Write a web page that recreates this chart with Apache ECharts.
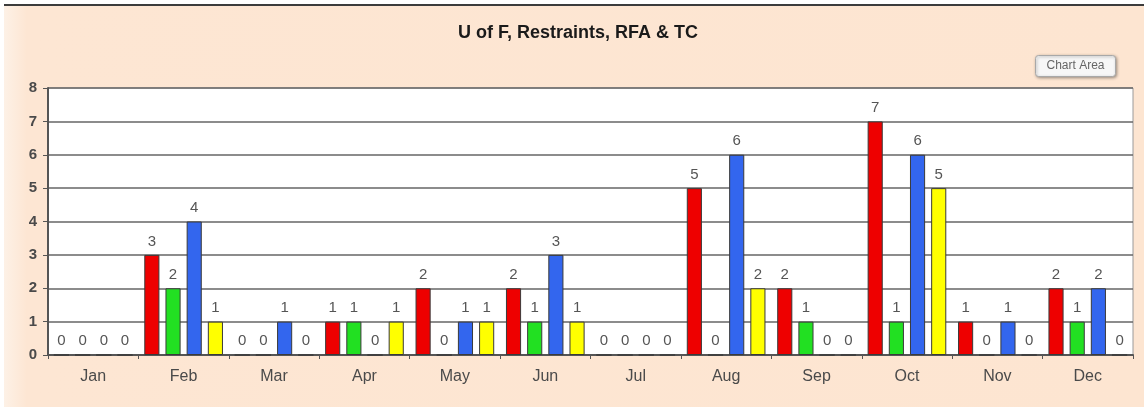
<!DOCTYPE html>
<html>
<head>
<meta charset="utf-8">
<script src="https://cdn.jsdelivr.net/npm/echarts@6/dist/echarts.min.js"></script>
<style>
  html, body { margin: 0; padding: 0; background: #fff; }
  #chart { width: 1144px; height: 407px; }
</style>
</head>
<body>
<div id="chart"></div>
<script>
// months on the x axis
var months = ["Jan", "Feb", "Mar", "Apr", "May", "Jun", "Jul", "Aug", "Sep", "Oct", "Nov", "Dec"];
// four series (red, green, blue, yellow)
var uof        = [0, 3, 0, 1, 2, 2, 0, 5, 2, 7, 1, 2];
var restraints = [0, 2, 0, 1, 0, 1, 0, 0, 1, 1, 0, 1];
var rfa        = [0, 4, 1, 0, 1, 3, 0, 6, 0, 6, 1, 2];
var tc         = [0, 1, 0, 1, 1, 1, 0, 2, 0, 5, 0, 0];
var yTicks = [0, 1, 2, 3, 4, 5, 6, 7, 8];

var font = "Arial, 'Liberation Sans', sans-serif";

function barSeries(name, values, color) {
  return {
    name: name,
    type: "bar",
    data: values,
    barGap: "40%",
    barCategoryGap: "13%",
    itemStyle: { color: color, borderColor: "#3a3a3a", borderWidth: 1 },
    label: {
      show: true,
      position: "top",
      distance: 6,
      color: "#555",
      fontSize: 15,
      fontFamily: font
    }
  };
}

var myChart = echarts.init(document.getElementById("chart"));
myChart.setOption({
  animation: false,
  backgroundColor: "#fff",
  title: {
    text: "U of F, Restraints, RFA & TC",
    left: 453,
    top: 19,
    textStyle: { fontSize: 18, fontWeight: "bold", color: "#1a1a1a", fontFamily: font }
  },
  graphic: [
    {
      type: "rect",
      z: -10,
      silent: true,
      shape: { x: 4, y: 6, width: 1140, height: 401 },
      style: {
        fill: new echarts.graphic.LinearGradient(0, 0, 1, 0, [
          { offset: 0, color: "#fdf1e6" },
          { offset: 0.02, color: "#fde6d3" },
          { offset: 1, color: "#fde5d1" }
        ])
      }
    },
    {
      type: "line",
      silent: true,
      shape: { x1: 4, y1: 5, x2: 1144, y2: 5 },
      style: { stroke: "#3c3c3c", lineWidth: 2 }
    },
    {
      type: "group",
      left: 1035,
      top: 55,
      children: [
        {
          type: "rect",
          shape: { x: 0, y: 0, width: 80, height: 21, r: 3 },
          style: {
            fill: "#f7f7f7",
            stroke: "#a8a8a8",
            lineWidth: 1,
            shadowBlur: 3,
            shadowOffsetX: 1,
            shadowOffsetY: 1,
            shadowColor: "rgba(0,0,0,0.35)"
          }
        },
        {
          type: "text",
          x: 40,
          y: 10.5,
          style: {
            text: "Chart Area",
            fontSize: 12,
            fontFamily: font,
            fill: "#666",
            align: "center",
            verticalAlign: "middle"
          }
        }
      ]
    }
  ],
  grid: { left: 48, right: 11, top: 88, bottom: 52, backgroundColor: "#fff", show: true, borderColor: "#9a9a9a", borderWidth: 1 },
  xAxis: {
    type: "category",
    data: months,
    axisLine: { lineStyle: { color: "#555", width: 2 } },
    axisTick: { show: true, length: 4, lineStyle: { color: "#555" } },
    axisLabel: { color: "#4a4a4a", fontSize: 16, fontFamily: font, margin: 14 }
  },
  yAxis: {
    type: "value",
    min: yTicks[0],
    max: yTicks[yTicks.length - 1],
    interval: 1,
    axisLine: { show: true, lineStyle: { color: "#555", width: 2 } },
    axisTick: { show: true, length: 5, lineStyle: { color: "#555" } },
    axisLabel: { color: "#4a4a4a", fontSize: 15, fontWeight: "bold", fontFamily: font, margin: 11 },
    splitLine: { lineStyle: { color: "#666", width: 1.5 } }
  },
  series: [
    barSeries("U of F", uof, "#ee0000"),
    barSeries("Restraints", restraints, "#22e022"),
    barSeries("RFA", rfa, "#3366ee"),
    barSeries("TC", tc, "#ffff00")
  ]
});
window.addEventListener("resize", function () {
  myChart.resize();
});
</script>
</body>
</html>
